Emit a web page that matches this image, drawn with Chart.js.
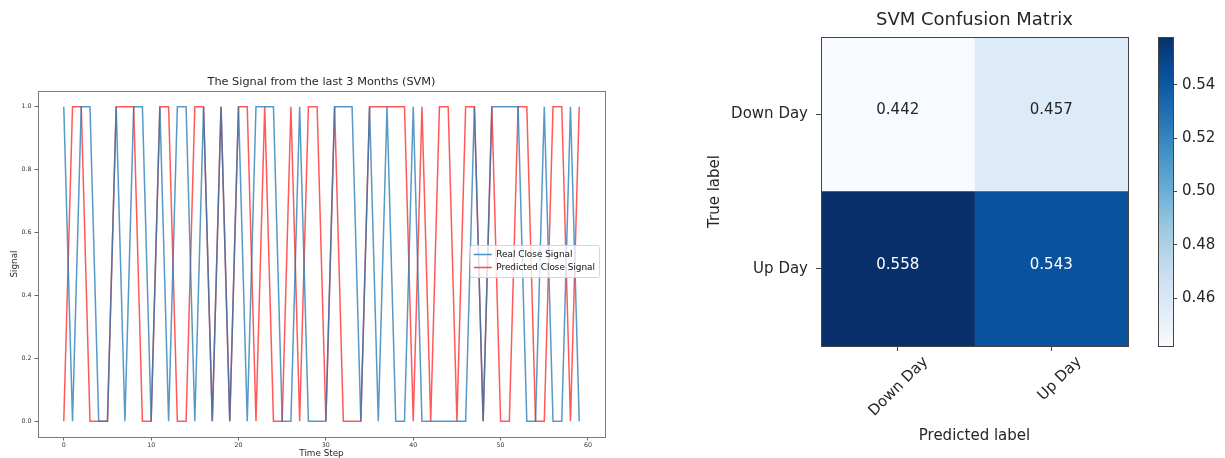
<!DOCTYPE html>
<html>
<head>
<meta charset="utf-8">
<title>SVM signal and confusion matrix</title>
<script src="https://cdn.jsdelivr.net/npm/chart.js@4.4.1/dist/chart.umd.min.js"></script>
<style>
  html, body { margin: 0; padding: 0; background: #fff; overflow: hidden; }
  body { width: 1225px; height: 458px; position: relative; }
  canvas { position: absolute; top: 0; }
  #signal-chart { left: 0; }
  #matrix-chart { left: 700px; }
  #colorbar-chart { left: 1140px; }
</style>
</head>
<body>
<canvas id="signal-chart" width="615" height="462"></canvas>
<canvas id="matrix-chart" width="440" height="458"></canvas>
<canvas id="colorbar-chart" width="85" height="458"></canvas>
<script>
// left panel: daily up/down signal, one value per time step
const realSignal = [
  1, 0, 1, 1, 0, 0, 1, 0, 1, 1,
  0, 1, 0, 1, 1, 0, 1, 0, 1, 0,
  1, 0, 1, 1, 1, 0, 0, 1, 0, 0,
  0, 1, 1, 1, 0, 1, 0, 1, 0, 0,
  1, 0, 0, 0, 0, 0, 0, 1, 0, 1,
  1, 1, 1, 0, 0, 1, 0, 0, 1, 0,
];
const predictedSignal = [
  0, 1, 1, 0, 0, 0, 1, 1, 1, 0,
  0, 1, 1, 0, 0, 1, 1, 0, 1, 0,
  1, 1, 0, 1, 0, 0, 1, 0, 1, 1,
  0, 1, 0, 0, 0, 1, 1, 1, 1, 1,
  0, 1, 0, 1, 1, 0, 1, 1, 0, 1,
  0, 0, 1, 1, 0, 0, 1, 1, 0, 1,
];
const xTicks = [0, 10, 20, 30, 40, 50, 60];
const yTicks = [0, 0.2, 0.4, 0.6, 0.8, 1.0];

// right panel: normalised confusion matrix (rows = true label)
const classLabels = ["Down Day", "Up Day"];
const downDayRow = [0.442, 0.457];
const upDayRow = [0.558, 0.543];
const colorbarTicks = [0.46, 0.48, 0.5, 0.52, 0.54];
const bluesStops = ["#f7fbff", "#deebf7", "#c6dbef", "#9ecae1", "#6baed6",
                    "#4292c6", "#2171b5", "#08519c", "#08306b"];

Chart.defaults.font.family = "'DejaVu Sans', sans-serif";
Chart.defaults.color = "#262626";

const matrixRows = [downDayRow, upDayRow];
const allValues = matrixRows.flat();
const vmin = Math.min(...allValues);
const vmax = Math.max(...allValues);

function hexToRgb(hex) {
  const n = parseInt(hex.slice(1), 16);
  return [(n >> 16) & 255, (n >> 8) & 255, n & 255];
}

function blues(t) {
  t = Math.min(1, Math.max(0, t));
  const pos = t * (bluesStops.length - 1);
  const i = Math.min(Math.floor(pos), bluesStops.length - 2);
  const f = pos - i;
  const a = hexToRgb(bluesStops[i]);
  const b = hexToRgb(bluesStops[i + 1]);
  return `rgb(${a.map((v, k) => Math.round(v + (b[k] - v) * f)).join(",")})`;
}

function norm(v) {
  return (v - vmin) / (vmax - vmin);
}

// box round the plot area, like matplotlib spines
const frame = {
  id: "frame",
  afterDatasetsDraw(chart, args, opts) {
    const { ctx, chartArea: a } = chart;
    ctx.save();
    ctx.strokeStyle = opts.color || "#555";
    ctx.lineWidth = 1;
    ctx.strokeRect(Math.round(a.left) + 0.5, Math.round(a.top) + 0.5,
      Math.round(a.right - a.left), Math.round(a.bottom - a.top));
    ctx.restore();
  },
};

// put the legend at the right-middle of the plot with a framed white box
const legendBox = {
  id: "legendBox",
  afterLayout(chart) {
    const lg = chart.legend;
    const area = chart.chartArea;
    const pad = lg.options.labels.padding;
    const boxes = lg.legendHitBoxes;
    const innerW = Math.max(...boxes.map((b) => b.width));
    const innerH = boxes.reduce((s, b) => s + b.height, 0) + pad * (boxes.length - 1);
    const w = innerW + 2 * pad;
    const h = innerH + 2 * pad + 2;
    const left = area.right - 6 - w;
    const top = (area.top + area.bottom) / 2 - 3 - h / 2;
    lg.left = left;
    lg.top = top + 1;
    lg.right = left + w + 20;
    lg.bottom = top + h + 20;
  },
  afterDatasetsDraw(chart) {
    const lg = chart.legend;
    const boxes = lg.legendHitBoxes;
    const pad = lg.options.labels.padding;
    const l = Math.min(...boxes.map((b) => b.left)) - pad;
    const t = Math.min(...boxes.map((b) => b.top)) - pad - 1;
    const r = Math.max(...boxes.map((b) => b.left + b.width)) + pad;
    const btm = Math.max(...boxes.map((b) => b.top + b.height)) + pad + 1;
    const ctx = chart.ctx;
    ctx.save();
    ctx.fillStyle = "rgba(255,255,255,0.8)";
    ctx.strokeStyle = "#d6d6d6";
    ctx.lineWidth = 1;
    ctx.beginPath();
    ctx.roundRect(Math.round(l) + 0.5, Math.round(t) + 0.5, Math.round(r - l), Math.round(btm - t), 2);
    ctx.fill();
    ctx.stroke();
    ctx.restore();
    lg.draw();
  },
};

const cellLabels = {
  id: "cellLabels",
  afterDatasetsDraw(chart) {
    const ctx = chart.ctx;
    ctx.save();
    ctx.font = "15px 'DejaVu Sans', sans-serif";
    ctx.textAlign = "center";
    ctx.textBaseline = "middle";
    chart.data.datasets.forEach((ds, j) => {
      chart.getDatasetMeta(j).data.forEach((bar, i) => {
        const v = matrixRows[i][j];
        const p = bar.getCenterPoint();
        ctx.fillStyle = v > (vmin + vmax) / 2 ? "#ffffff" : "#262626";
        ctx.fillText(v.toFixed(3), p.x, p.y - 4);
      });
    });
    ctx.restore();
  },
};

function renderSignal() {
  new Chart(document.getElementById("signal-chart"), {
    type: "line",
    data: {
      datasets: [
        {
          label: "Real Close Signal",
          data: realSignal.map((v, t) => ({ x: t, y: v })),
          borderColor: "rgba(31, 119, 180, 0.75)",
          backgroundColor: "rgba(31, 119, 180, 0.75)",
          borderWidth: 1.5,
          pointRadius: 0,
          tension: 0,
        },
        {
          label: "Predicted Close Signal",
          data: predictedSignal.map((v, t) => ({ x: t, y: v })),
          borderColor: "rgba(255, 0, 0, 0.65)",
          backgroundColor: "rgba(255, 0, 0, 0.65)",
          borderWidth: 1.5,
          pointRadius: 0,
          tension: 0,
        },
      ],
    },
    options: {
      responsive: false,
      animation: false,
      layout: { padding: { right: 10 } },
      plugins: {
        legend: {
          position: "chartArea",
          align: "start",
          labels: {
            usePointStyle: true,
            pointStyle: "line",
            pointStyleWidth: 18,
            padding: 4,
            font: { size: 8.9 },
            color: "#262626",
          },
        },
        title: {
          display: true,
          text: "The Signal from the last 3 Months (SVM)",
          fullSize: false,
          font: { size: 11.3, weight: "normal" },
          color: "#262626",
          padding: { top: 75.7, bottom: 1.7 },
        },
        tooltip: { enabled: false },
        frame: { color: "#7a7a7a" },
      },
      scales: {
        x: {
          type: "linear",
          min: -2.95,
          max: 61.95,
          afterBuildTicks: (s) => { s.ticks = xTicks.map((value) => ({ value })); },
          afterFit: (s) => { s.height = 25; },
          ticks: { font: { size: 6.3 }, color: "#333", padding: 1, maxRotation: 0 },
          grid: { drawOnChartArea: false, tickLength: 3.5, color: "#666" },
          border: { display: false },
          title: {
            display: true,
            text: "Time Step",
            font: { size: 8.8 },
            padding: { top: 0, bottom: 2.7 },
          },
        },
        y: {
          min: -0.05,
          max: 1.05,
          afterBuildTicks: (s) => { s.ticks = yTicks.map((value) => ({ value })); },
          afterFit: (s) => { s.width = 38; },
          ticks: { font: { size: 6.3 }, color: "#333", padding: 3, callback: (v) => v.toFixed(1) },
          grid: { drawOnChartArea: false, tickLength: 3.5, color: "#666" },
          border: { display: false },
          title: {
            display: true,
            text: "Signal",
            font: { size: 8.8 },
            padding: { top: 9.7, bottom: 0 },
          },
        },
      },
    },
    plugins: [frame, legendBox],
  });
}

function renderMatrix() {
  new Chart(document.getElementById("matrix-chart"), {
    type: "bar",
    data: {
      labels: classLabels,
      datasets: classLabels.map((pred, j) => ({
        label: pred,
        data: matrixRows.map(() => [j, j + 1]),
        backgroundColor: matrixRows.map((row) => blues(norm(row[j]))),
        borderWidth: 0,
        grouped: false,
        barPercentage: 1,
        categoryPercentage: 1,
      })),
    },
    options: {
      indexAxis: "y",
      responsive: false,
      animation: false,
      layout: { padding: { right: 12 } },
      plugins: {
        legend: { display: false },
        tooltip: { enabled: false },
        title: {
          display: true,
          text: "SVM Confusion Matrix",
          fullSize: false,
          font: { size: 18, weight: "normal" },
          color: "#262626",
          padding: { top: 10, bottom: 5.4 },
        },
        frame: { color: "#444" },
      },
      scales: {
        x: {
          type: "linear",
          min: 0,
          max: 2,
          afterBuildTicks: (s) => { s.ticks = classLabels.map((_, i) => ({ value: i + 0.5 })); },
          afterFit: (s) => { s.height = 112; },
          ticks: {
            callback: (v, i) => classLabels[i],
            minRotation: 45,
            maxRotation: 45,
            autoSkip: false,
            labelOffset: 28,
            padding: 2,
            font: { size: 15 },
          },
          grid: { drawOnChartArea: false, tickLength: 5, color: "#444" },
          border: { display: false },
          title: {
            display: true,
            text: "Predicted label",
            font: { size: 15 },
            padding: { top: 0, bottom: 13 },
          },
        },
        y: {
          type: "category",
          afterFit: (s) => { s.width = 121; },
          ticks: { font: { size: 15 }, padding: 8 },
          grid: { offset: false, drawOnChartArea: false, tickLength: 5, color: "#444" },
          border: { display: false },
          title: {
            display: true,
            text: "True label",
            font: { size: 15 },
            padding: { top: 6, bottom: 0 },
          },
        },
      },
    },
    plugins: [frame, cellLabels],
  });
}

function renderColorbar() {
  new Chart(document.getElementById("colorbar-chart"), {
    type: "bar",
    data: {
      labels: [""],
      datasets: [
        {
          data: [[vmin, vmax]],
          backgroundColor: (c) => {
            const a = c.chart.chartArea;
            if (!a) {
              return bluesStops[0];
            }
            const g = c.chart.ctx.createLinearGradient(0, a.bottom, 0, a.top);
            bluesStops.forEach((col, k) => g.addColorStop(k / (bluesStops.length - 1), col));
            return g;
          },
          borderWidth: 0,
          barPercentage: 1,
          categoryPercentage: 1,
        },
      ],
    },
    options: {
      responsive: false,
      animation: false,
      layout: { padding: { left: 18, top: 37, bottom: 112 } },
      plugins: {
        legend: { display: false },
        tooltip: { enabled: false },
        frame: { color: "#444" },
      },
      scales: {
        x: { display: false },
        y: {
          type: "linear",
          position: "right",
          min: vmin,
          max: vmax,
          afterBuildTicks: (s) => { s.ticks = colorbarTicks.map((value) => ({ value })); },
          afterFit: (s) => { s.width = 52; },
          ticks: { font: { size: 15 }, padding: 5, callback: (v) => v.toFixed(2) },
          grid: { drawOnChartArea: false, tickLength: 4, color: "#444" },
          border: { display: false },
        },
      },
    },
    plugins: [frame],
  });
}

renderSignal();
renderMatrix();
renderColorbar();
</script>
</body>
</html>
